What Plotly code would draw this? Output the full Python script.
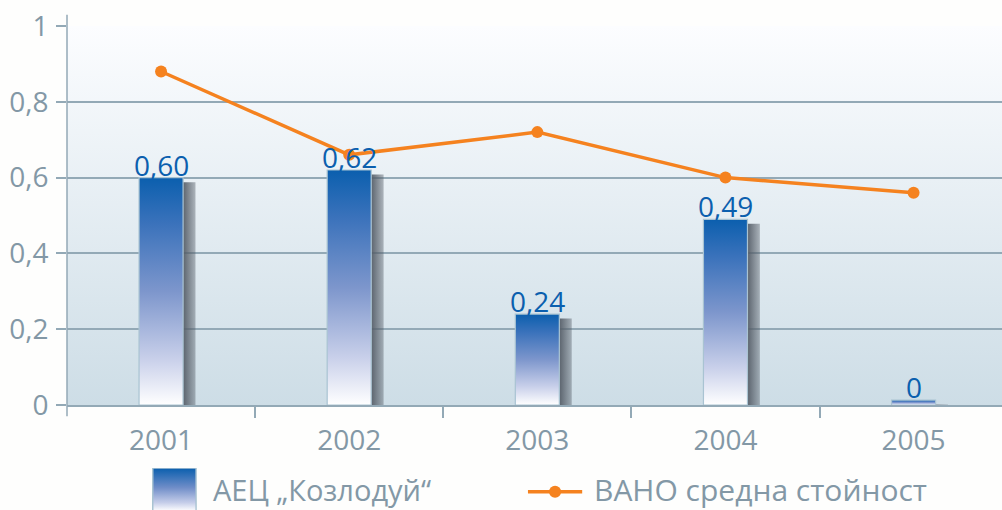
import base64
import plotly.graph_objects as go

# ---------------- data ----------------
years = ["2001", "2002", "2003", "2004", "2005"]
kozloduy = [0.60, 0.62, 0.24, 0.49, 0.0]          # bars
vano_avg = [0.88, 0.66, 0.72, 0.60, 0.56]         # line
y_ticks = [0, 0.2, 0.4, 0.6, 0.8, 1.0]
y_ticklabels = ["0", "0,2", "0,4", "0,6", "0,8", "1"]
series_names = ["АЕЦ „Козлодуй“", "ВАНО средна стойност"]

# ---------------- style ----------------
FONT = "Open Sans"
TICK_COLOR = "#8398a6"
GRID_COLOR = "#93a9b6"
BAR_TOP = "#0b5fae"
LABEL_COLOR = "#0b5fae"
ORANGE = "#f5821f"
HALF_W = 0.117        # half bar width (category units)
SHADOW_W = 0.066
MIN_VISIBLE = 0.013   # minimal drawn height so a zero bar is still visible

X_MIN, X_MAX = -0.5, 4.47

def svg_uri(svg):
    return "data:image/svg+xml;base64," + base64.b64encode(svg.encode()).decode()

bg_svg = ('<svg xmlns="http://www.w3.org/2000/svg" width="10" height="100" '
          'preserveAspectRatio="none"><defs><linearGradient id="g" x1="0" y1="0" x2="0" y2="1">'
          '<stop offset="0" stop-color="#fcfdff"/><stop offset="1" stop-color="#cddde6"/>'
          '</linearGradient></defs><rect width="10" height="100" fill="url(#g)"/></svg>')

leg_svg = ('<svg xmlns="http://www.w3.org/2000/svg" width="30" height="60" '
           'preserveAspectRatio="none"><defs><linearGradient id="b" x1="0" y1="0" x2="0" y2="1">'
           '<stop offset="0" stop-color="#0b5fae"/><stop offset="0.45" stop-color="#6f8dc8"/>'
           '<stop offset="0.8" stop-color="#c5cde9"/><stop offset="1" stop-color="#ffffff"/>'
           '</linearGradient></defs><rect x="0.5" y="0.5" width="29" height="59" fill="url(#b)" '
           'stroke="#a9c3d2" stroke-width="1"/></svg>')

bar_scale = [[0, "#ffffff"], [0.2, "#c9d0ea"], [0.5, "#7d96cc"], [0.8, "#3a72bb"], [1, BAR_TOP]]

fig = go.Figure()

# bars (shadow + gradient body)
for i, v in enumerate(kozloduy):
    h = max(v, MIN_VISIBLE)
    top_sh = max(h - 0.012, 0)
    fig.add_trace(go.Scatter(
        x=[i + HALF_W, i + HALF_W, i + HALF_W + SHADOW_W, i + HALF_W + SHADOW_W, i + HALF_W],
        y=[0, top_sh, top_sh, 0, 0],
        mode="lines", line=dict(width=0), fill="toself",
        fillgradient=dict(type="horizontal",
                          colorscale=[[0, "rgba(85,93,103,0.95)"], [1, "rgba(85,93,103,0.4)"]]),
        showlegend=False, hoverinfo="skip"))
    fig.add_trace(go.Scatter(
        x=[i - HALF_W, i - HALF_W, i + HALF_W, i + HALF_W, i - HALF_W],
        y=[0, h, h, 0, 0],
        mode="lines", line=dict(color="#a9c3d2", width=1.2), fill="toself",
        fillgradient=dict(type="vertical", colorscale=bar_scale),
        name=series_names[0], showlegend=False, hoverinfo="skip"))

# line
fig.add_trace(go.Scatter(
    x=list(range(len(years))), y=vano_avg, mode="lines+markers",
    line=dict(color=ORANGE, width=3.5), marker=dict(color=ORANGE, size=12),
    name=series_names[1], showlegend=False))

# value labels
for i, v in enumerate(kozloduy):
    txt = "0" if v == 0 else f"{v:.2f}".replace(".", ",")
    fig.add_annotation(x=i, y=max(v, MIN_VISIBLE), text=txt, showarrow=False,
                       yanchor="bottom", yshift=-8,
                       font=dict(family=FONT, size=28, color=LABEL_COLOR))

# y axis line extending past the plot
fig.add_shape(type="line", xref="paper", yref="paper", x0=0, x1=0, y0=-0.03, y1=1.03,
              line=dict(color=GRID_COLOR, width=1.5))

# manual legend
fig.add_layout_image(source=svg_uri(leg_svg), xref="paper", yref="paper",
                     x=0.0909, y=-0.166, sizex=0.048, sizey=0.115,
                     xanchor="left", yanchor="top", sizing="stretch", layer="above")
fig.add_annotation(xref="paper", yref="paper", x=0.154, y=-0.224, text=series_names[0],
                   showarrow=False, xanchor="left", yanchor="middle",
                   font=dict(family=FONT, size=29, color=TICK_COLOR))
fig.add_shape(type="line", xref="paper", yref="paper", x0=0.493, x1=0.551, y0=-0.229, y1=-0.229,
              line=dict(color=ORANGE, width=3.5))
fig.add_shape(type="circle", xref="paper", yref="paper", x0=0.5155, x1=0.5285,
              y0=-0.229 - 0.016, y1=-0.229 + 0.016, fillcolor=ORANGE, line=dict(width=0))
fig.add_annotation(xref="paper", yref="paper", x=0.561, y=-0.224, text=series_names[1],
                   showarrow=False, xanchor="left", yanchor="middle",
                   font=dict(family=FONT, size=30, color=TICK_COLOR))

# background gradient
fig.add_layout_image(source=svg_uri(bg_svg), xref="paper", yref="paper",
                     x=0, y=1, sizex=1, sizey=1, xanchor="left", yanchor="top",
                     sizing="stretch", layer="below")

fig.update_layout(
    width=1002, height=510,
    margin=dict(l=67, r=0, t=26, b=105),
    paper_bgcolor="#fefefd", plot_bgcolor="rgba(0,0,0,0)",
    font=dict(family=FONT, color=TICK_COLOR),
    xaxis=dict(range=[X_MIN, X_MAX], tickmode="array", tickvals=list(range(len(years))),
               ticktext=years, ticks="", showgrid=False, zeroline=False,
               showline=True, linecolor=GRID_COLOR, linewidth=1.5,
               tickfont=dict(family=FONT, size=28, color=TICK_COLOR),
               ticklabelstandoff=10,
               minor=dict(tickmode="array", tickvals=[0.5, 1.5, 2.5, 3.5], ticks="outside",
                          ticklen=11, tickcolor=GRID_COLOR, tickwidth=1.5, showgrid=False)),
    yaxis=dict(range=[0, 1], tickmode="array", tickvals=y_ticks, ticktext=y_ticklabels,
               ticks="outside", ticklen=10, tickcolor=GRID_COLOR, tickwidth=1.5,
               showgrid=True, gridcolor=GRID_COLOR, gridwidth=1.5, zeroline=False,
               showline=False, ticklabelstandoff=2,
               tickfont=dict(family=FONT, size=28, color=TICK_COLOR)),
    showlegend=False,
)

fig.write_html("out.html", config={"displayModeBar": False},
               post_script="document.body.style.margin='0';document.body.style.overflow='hidden';")
